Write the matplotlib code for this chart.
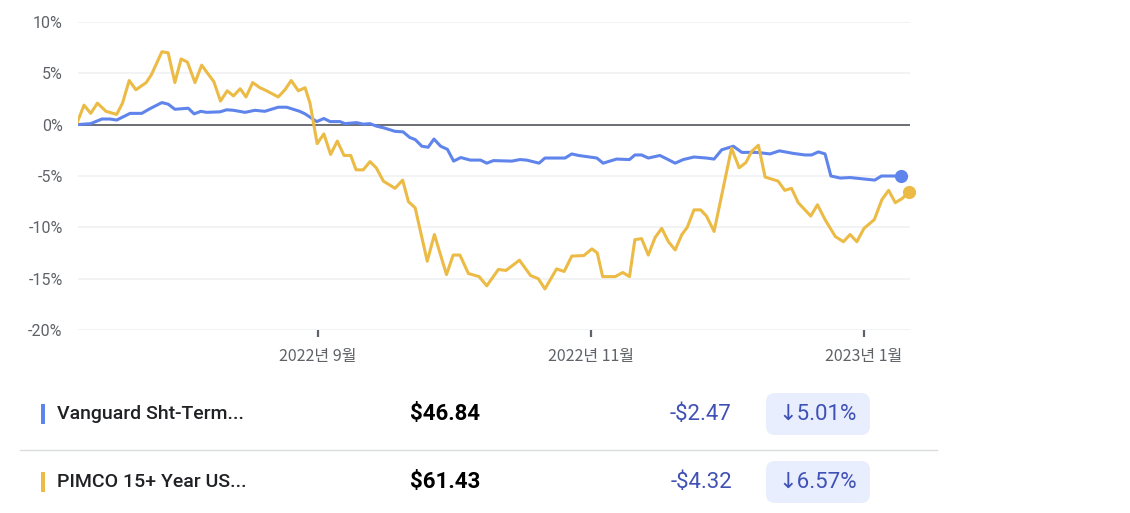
import matplotlib
matplotlib.use("Agg")
import matplotlib.pyplot as plt
import matplotlib.dates as mdates
from matplotlib.patches import Rectangle, FancyBboxPatch
import numpy as np
import pandas as pd

# ---------------- data ----------------
start_date = "2022-07-09"          # day 0
# (days since start, % change)
vanguard_points = [
    (0.0, 0.0), (3.2, 0.1), (5.7, 0.55), (7.5, 0.55), (9.0, 0.45), (12.0, 1.1),
    (14.6, 1.1), (16.4, 1.55), (19.1, 2.15), (20.5, 2.0), (22.0, 1.5), (25.0, 1.6),
    (26.3, 1.05), (27.8, 1.3), (29.1, 1.2), (32.1, 1.25), (33.6, 1.45), (35.1, 1.4),
    (37.7, 1.2), (39.9, 1.4), (42.1, 1.3), (45.1, 1.7), (47.0, 1.7), (49.9, 1.3),
    (51.1, 1.05), (53.7, 0.3), (55.3, 0.6), (56.7, 0.3), (58.9, 0.3), (60.0, 0.1),
    (62.6, 0.2), (64.1, 0.05), (65.6, 0.1), (67.1, -0.15), (68.6, -0.3), (71.2, -0.65),
    (73.0, -0.7), (74.5, -1.25), (75.7, -1.45), (77.2, -2.1), (78.6, -2.2), (79.9, -1.4),
    (81.4, -2.1), (82.9, -2.4), (84.3, -3.55), (85.9, -3.2), (88.0, -3.45), (90.3, -3.45),
    (91.7, -3.75), (93.2, -3.5), (97.3, -3.55), (99.1, -3.4), (100.6, -3.45), (103.4, -3.75),
    (104.7, -3.25), (109.2, -3.25), (110.7, -2.85), (112.2, -3.0), (116.3, -3.25), (117.7, -3.75),
    (120.7, -3.35), (123.6, -3.4), (124.8, -2.95), (126.3, -2.95), (127.8, -3.25), (130.4, -3.0),
    (132.0, -3.35), (133.8, -3.75), (135.6, -3.4), (138.0, -3.15), (140.8, -3.25), (142.5, -3.35),
    (144.2, -2.45), (146.8, -2.1), (148.7, -2.7), (152.0, -2.7), (155.0, -2.85), (157.1, -2.55),
    (160.2, -2.8), (162.8, -2.95), (164.3, -2.95), (165.8, -2.65), (167.3, -2.85), (168.6, -5.0),
    (170.7, -5.2), (172.9, -5.15), (176.2, -5.3), (178.4, -5.4), (179.9, -5.0), (182.1, -5.0),
    (184.3, -5.01),
]
pimco_points = [
    (0.0, 0.0), (1.7, 1.9), (3.2, 1.1), (4.7, 2.1), (6.6, 1.3), (9.0, 1.0),
    (10.3, 2.1), (11.8, 4.3), (13.3, 3.4), (15.6, 4.1), (16.8, 4.9), (19.1, 7.1),
    (20.5, 7.0), (22.0, 4.1), (23.4, 6.4), (24.8, 6.1), (26.5, 4.1), (28.0, 5.8),
    (29.5, 4.9), (30.7, 4.2), (32.2, 2.3), (33.7, 3.3), (35.1, 2.8), (36.6, 3.5),
    (37.9, 2.7), (39.4, 4.1), (41.0, 3.6), (42.5, 3.3), (45.1, 2.7), (46.6, 3.4),
    (48.0, 4.3), (49.6, 3.3), (51.1, 3.6), (52.2, 2.1), (53.8, -1.85), (55.3, -0.9),
    (56.8, -2.9), (58.3, -1.6), (59.8, -3.0), (61.3, -3.0), (62.5, -4.4), (64.1, -4.4),
    (65.6, -3.6), (67.0, -4.2), (68.6, -5.5), (71.2, -6.2), (72.9, -5.4), (74.2, -7.5),
    (75.7, -8.1), (78.4, -13.3), (80.0, -10.7), (82.7, -14.6), (84.2, -12.7), (85.7, -12.7),
    (87.6, -14.5), (90.0, -14.8), (91.7, -15.7), (94.3, -14.1), (96.0, -14.2), (99.0, -13.2),
    (101.5, -14.7), (103.2, -15.0), (104.7, -16.0), (107.3, -14.05), (109.0, -14.3), (110.7, -12.8),
    (113.4, -12.75), (115.2, -12.1), (116.4, -12.5), (117.6, -14.8), (120.4, -14.8), (122.1, -14.4),
    (123.6, -14.8), (124.8, -11.2), (126.3, -11.1), (127.8, -12.7), (129.3, -11.0), (130.8, -10.1),
    (132.3, -11.4), (133.8, -12.2), (135.3, -10.7), (136.5, -10.0), (138.0, -8.3), (139.5, -8.3),
    (140.8, -8.9), (142.5, -10.4), (146.4, -2.3), (148.1, -4.2), (149.6, -3.7), (150.9, -2.6),
    (152.4, -2.0), (153.9, -5.1), (156.8, -5.5), (158.3, -6.4), (159.8, -6.2), (161.3, -7.6),
    (164.1, -8.9), (165.6, -7.8), (167.3, -9.25), (169.6, -10.9), (171.4, -11.4), (172.9, -10.7),
    (174.4, -11.4), (176.0, -10.1), (178.3, -9.25), (180.0, -7.3), (181.5, -6.4), (183.0, -7.6),
    (184.5, -7.2), (186.1, -6.57),
]
y_ticks = [10, 5, 0, -5, -10, -15, -20]
x_tick_dates = ["2022-09-01", "2022-11-01", "2023-01-01"]
x_tick_labels = ["2022년 9월", "2022년 11월", "2023년 1월"]

names = ["Vanguard Sht-Term...", "PIMCO 15+ Year US..."]
prices = ["$46.84", "$61.43"]
changes = ["-$2.47", "-$4.32"]
pct_changes = ["↓5.01%", "↓6.57%"]

BLUE = "#5f84ec"
YELLOW = "#ebbb45"
GRAY = "#5f6368"

# ---------------- figure ----------------
W, H = 1130, 513
fig = plt.figure(figsize=(W / 100, H / 100), dpi=100)
fig.patch.set_facecolor("white")

def fx(px):
    return px / W

def fy(py):
    return 1 - py / H

ax_left, ax_right, ax_top, ax_bot = 78, 910, 22, 330
ax = fig.add_axes([fx(ax_left), fy(ax_bot), fx(ax_right - ax_left), (ax_bot - ax_top) / H])

base = mdates.date2num(pd.Timestamp(start_date))

def to_xy(points):
    d = np.array([p[0] for p in points]) + base
    v = np.array([p[1] for p in points])
    return d, v

vx, vy = to_xy(vanguard_points)
px_, py_ = to_xy(pimco_points)

for yt in y_ticks:
    if yt == 0:
        continue
    ax.axhline(yt, color="#f0f1f2", lw=1.2, zorder=0)
ax.axhline(0, color="#5f6368", lw=1.3, zorder=1)

ax.plot(vx, vy, color=BLUE, lw=2.2, solid_joinstyle="round", solid_capstyle="round", zorder=3)
ax.plot(px_, py_, color=YELLOW, lw=2.2, solid_joinstyle="round", solid_capstyle="round", zorder=4)
ax.plot(vx[-1], vy[-1], "o", color=BLUE, ms=9.5, zorder=5, mec="none", clip_on=False)
ax.plot(px_[-1], py_[-1], "o", color=YELLOW, ms=9.5, zorder=6, mec="none", clip_on=False)

ax.set_xlim(base + (ax_left - 76.4) / 4.475, base + (ax_right - 76.4) / 4.475)
ax.set_ylim(-20, 10)

for s in ax.spines.values():
    s.set_visible(False)

ax.set_yticks(y_ticks)
ax.set_yticklabels([f"{t}%" for t in y_ticks], fontsize=11.5, color=GRAY, family=["Roboto", "DejaVu Sans"])
ax.tick_params(axis="y", length=0, pad=11)

ax.set_xticks([mdates.date2num(pd.Timestamp(d)) for d in x_tick_dates])
ax.set_xticklabels(x_tick_labels, fontsize=11.5, color=GRAY,
                   family=["Noto Sans CJK KR", "DejaVu Sans"])
ax.tick_params(axis="x", length=5, width=1.6, color=GRAY, pad=8, direction="out")
ax.set_facecolor("white")

# ---------------- legend table ----------------
rows_y = [414, 482]
bar_colors = [BLUE, YELLOW]
for i, ry in enumerate(rows_y):
    fig.add_artist(Rectangle((fx(41), fy(ry + 10)), fx(4), 20 / H, transform=fig.transFigure,
                             facecolor=bar_colors[i], edgecolor="none"))
    fig.text(fx(57), fy(ry), names[i], fontsize=14, color="#202124", va="center", ha="left",
             family=["Roboto", "DejaVu Sans"], fontweight="medium")
    fig.text(fx(445), fy(ry), prices[i], fontsize=16, color="#000000", va="center", ha="center",
             family=["Roboto", "DejaVu Sans"], fontweight="bold")
    fig.text(fx(732), fy(ry), changes[i], fontsize=16, color="#3f51b5", va="center", ha="right",
             family=["Roboto", "DejaVu Sans"])
    fig.add_artist(FancyBboxPatch((fx(766), fy(ry + 21)), fx(104), 42 / H,
                                  boxstyle="round,pad=0,rounding_size=0.008",
                                  transform=fig.transFigure, facecolor="#e8eefd", edgecolor="none",
                                  mutation_aspect=W / H))
    fig.text(fx(818), fy(ry), pct_changes[i], fontsize=16, color="#3f51b5", va="center", ha="center",
             family=["Roboto", "DejaVu Sans"])

fig.add_artist(plt.Line2D([fx(20), fx(937)], [fy(450), fy(450)], transform=fig.transFigure,
                          color="#dadce0", lw=1))

fig.savefig("out.png", dpi=100, facecolor="white")
